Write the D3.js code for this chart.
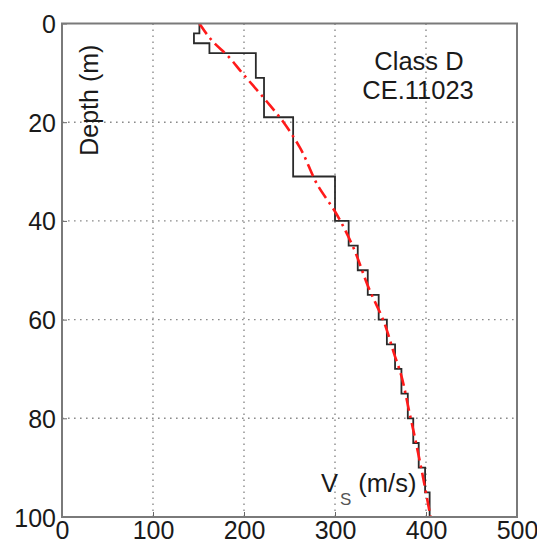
<!DOCTYPE html>
<html>
<head>
<meta charset="utf-8">
<script src="https://cdn.jsdelivr.net/npm/d3@7"></script>
<style>
  html, body { margin: 0; padding: 0; background: #fff; }
  svg { display: block; font-family: "Liberation Sans", Arial, Helvetica, sans-serif; }
</style>
</head>
<body>
<svg id="chart" width="537" height="546"></svg>
<script>
// Layered shear-wave velocity profile (top depth of each layer, m / Vs, m/s)
const layerTop = [0, 2, 4, 6, 11, 19, 31, 40, 45, 50, 55, 60, 65, 70, 75, 80, 85, 90, 95];
const layerVs  = [151, 145, 162, 213, 222, 254, 300, 315, 325, 336, 348, 357, 366, 373, 380, 386, 392, 399, 404];
const profileBottom = 100;

// Smooth fitted profile (depth, m / Vs, m/s)
const fitDepth = [0, 3.7, 6.7, 9.8, 15.8, 19.9, 25, 33.1, 38.1, 44.5, 54, 60.1, 67.5, 70.2, 79, 88.5, 100];
const fitVs    = [151, 166, 183, 197, 225, 243, 261, 282, 300, 318, 338, 353, 366, 371, 382, 393, 405];

const xTicks = [0, 100, 200, 300, 400, 500];
const yTicks = [0, 20, 40, 60, 80, 100];

const svg = d3.select("#chart");
const plotL = 62, plotT = 23.5, plotR = 517, plotB = 517;
const fs = 25;

const x = d3.scaleLinear().domain([0, 500]).range([plotL, plotR]);
const y = d3.scaleLinear().domain([0, 100]).range([plotT, plotB]);

// dotted grid
const grid = svg.append("g").attr("stroke", "#8a8a8a").attr("stroke-width", 1.4)
  .attr("stroke-dasharray", "1.6,4.4");
grid.selectAll("line.gx").data(xTicks.slice(1, -1)).join("line").attr("class", "gx")
  .attr("x1", d => x(d)).attr("x2", d => x(d)).attr("y1", plotT).attr("y2", plotB);
grid.selectAll("line.gy").data(yTicks.slice(1, -1)).join("line").attr("class", "gy")
  .attr("y1", d => y(d)).attr("y2", d => y(d)).attr("x1", plotL).attr("x2", plotR);

// staircase profile
const stairPts = [];
layerTop.forEach((t, i) => {
  const b = i < layerTop.length - 1 ? layerTop[i + 1] : profileBottom;
  stairPts.push([layerVs[i], t], [layerVs[i], b]);
});
const line = d3.line().x(d => x(d[0])).y(d => y(d[1]));
svg.append("path").datum(stairPts).attr("d", line)
  .attr("fill", "none").attr("stroke", "#2a2a2a").attr("stroke-width", 1.8);

// fitted curve
const fitPts = fitDepth.map((d, i) => [fitVs[i], d]);
svg.append("path").datum(fitPts)
  .attr("d", d3.line().x(d => x(d[0])).y(d => y(d[1])).curve(d3.curveMonotoneY))
  .attr("fill", "none").attr("stroke", "#ff1a1a").attr("stroke-width", 2.6)
  .attr("stroke-dasharray", "13,5,2.5,5");

// axes frame and ticks
const axisG = svg.append("g");
const xAxis = d3.axisBottom(x).tickValues(xTicks).tickSize(-5).tickPadding(9);
const yAxis = d3.axisLeft(y).tickValues(yTicks).tickSize(-5).tickPadding(9);
const xg = axisG.append("g").attr("transform", `translate(0,${plotB})`).call(xAxis);
const yg = axisG.append("g").attr("transform", `translate(${plotL},0)`).call(yAxis);
[xg, yg].forEach(g => {
  g.select(".domain").remove();
  g.selectAll(".tick line").attr("stroke", "#666").attr("stroke-width", 1);
  g.selectAll("text").attr("font-size", fs).attr("fill", "#1a1a1a")
    .attr("font-family", "Liberation Sans, Arial, sans-serif");
});
xg.selectAll("text").attr("dy", "0.71em").attr("y", 4);
yg.selectAll("text").attr("x", -6).attr("dy", "0.36em");

axisG.append("rect").attr("x", plotL).attr("y", plotT)
  .attr("width", plotR - plotL).attr("height", plotB - plotT)
  .attr("fill", "none").attr("stroke", "#7a7a7a").attr("stroke-width", 2);

// labels
svg.append("text").attr("transform", `translate(98,${y(26.8)}) rotate(-90)`)
  .attr("font-size", fs).attr("fill", "#1a1a1a").text("Depth (m)");

const note = svg.append("text").attr("font-size", 25.5).attr("fill", "#1a1a1a")
  .attr("text-anchor", "middle");
note.append("tspan").attr("x", 419).attr("y", 69.5).text("Class D");
note.append("tspan").attr("x", 418).attr("y", 99).text("CE.11023");

const vs = svg.append("text").attr("x", 321).attr("y", 491.5)
  .attr("font-size", 25.5).attr("fill", "#1a1a1a");
vs.append("tspan").text("V");
vs.append("tspan").attr("font-size", 17).attr("fill", "#555").attr("dy", 13).attr("dx", 2).text("S");
vs.append("tspan").attr("dy", -13).attr("dx", 7).text("(m/s)");
</script>
</body>
</html>
